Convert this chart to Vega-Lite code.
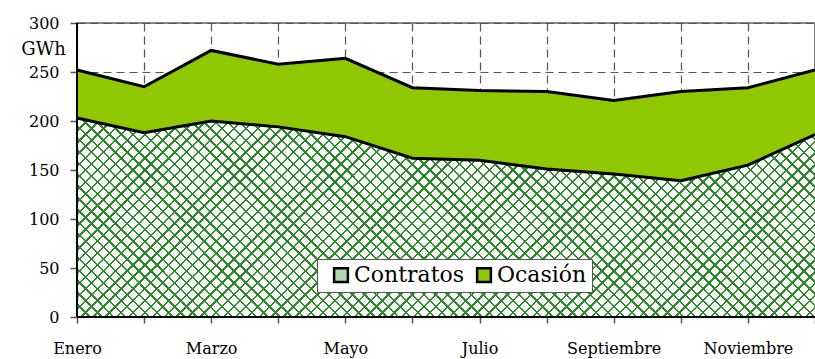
{
  "$schema": "https://vega.github.io/schema/vega-lite/v6.json",
  "autosize": "none",
  "width": 738,
  "height": 294,
  "padding": {"left": 77, "top": 23, "right": 0, "bottom": 42},
  "background": "white",
  "params": [
    {"name": "hatch", "value": [
{"offset":0,"color":"#2a8a2a"},{"offset":0.0025,"color":"#2a8a2a"},{"offset":0.0025,"color":"#0000"},{"offset":0.0125,"color":"#0000"},
{"offset":0.0125,"color":"#2a8a2a"},{"offset":0.015,"color":"#2a8a2a"},{"offset":0.015,"color":"#0000"},{"offset":0.025,"color":"#0000"},
{"offset":0.025,"color":"#2a8a2a"},{"offset":0.0275,"color":"#2a8a2a"},{"offset":0.0275,"color":"#0000"},{"offset":0.0375,"color":"#0000"},
{"offset":0.0375,"color":"#2a8a2a"},{"offset":0.04,"color":"#2a8a2a"},{"offset":0.04,"color":"#0000"},{"offset":0.05,"color":"#0000"},
{"offset":0.05,"color":"#2a8a2a"},{"offset":0.0525,"color":"#2a8a2a"},{"offset":0.0525,"color":"#0000"},{"offset":0.0625,"color":"#0000"},
{"offset":0.0625,"color":"#2a8a2a"},{"offset":0.065,"color":"#2a8a2a"},{"offset":0.065,"color":"#0000"},{"offset":0.075,"color":"#0000"},
{"offset":0.075,"color":"#2a8a2a"},{"offset":0.0775,"color":"#2a8a2a"},{"offset":0.0775,"color":"#0000"},{"offset":0.0875,"color":"#0000"},
{"offset":0.0875,"color":"#2a8a2a"},{"offset":0.09,"color":"#2a8a2a"},{"offset":0.09,"color":"#0000"},{"offset":0.1,"color":"#0000"},
{"offset":0.1,"color":"#2a8a2a"},{"offset":0.1025,"color":"#2a8a2a"},{"offset":0.1025,"color":"#0000"},{"offset":0.1125,"color":"#0000"},
{"offset":0.1125,"color":"#2a8a2a"},{"offset":0.115,"color":"#2a8a2a"},{"offset":0.115,"color":"#0000"},{"offset":0.125,"color":"#0000"},
{"offset":0.125,"color":"#2a8a2a"},{"offset":0.1275,"color":"#2a8a2a"},{"offset":0.1275,"color":"#0000"},{"offset":0.1375,"color":"#0000"},
{"offset":0.1375,"color":"#2a8a2a"},{"offset":0.14,"color":"#2a8a2a"},{"offset":0.14,"color":"#0000"},{"offset":0.15,"color":"#0000"},
{"offset":0.15,"color":"#2a8a2a"},{"offset":0.1525,"color":"#2a8a2a"},{"offset":0.1525,"color":"#0000"},{"offset":0.1625,"color":"#0000"},
{"offset":0.1625,"color":"#2a8a2a"},{"offset":0.165,"color":"#2a8a2a"},{"offset":0.165,"color":"#0000"},{"offset":0.175,"color":"#0000"},
{"offset":0.175,"color":"#2a8a2a"},{"offset":0.1775,"color":"#2a8a2a"},{"offset":0.1775,"color":"#0000"},{"offset":0.1875,"color":"#0000"},
{"offset":0.1875,"color":"#2a8a2a"},{"offset":0.19,"color":"#2a8a2a"},{"offset":0.19,"color":"#0000"},{"offset":0.2,"color":"#0000"},
{"offset":0.2,"color":"#2a8a2a"},{"offset":0.2025,"color":"#2a8a2a"},{"offset":0.2025,"color":"#0000"},{"offset":0.2125,"color":"#0000"},
{"offset":0.2125,"color":"#2a8a2a"},{"offset":0.215,"color":"#2a8a2a"},{"offset":0.215,"color":"#0000"},{"offset":0.225,"color":"#0000"},
{"offset":0.225,"color":"#2a8a2a"},{"offset":0.2275,"color":"#2a8a2a"},{"offset":0.2275,"color":"#0000"},{"offset":0.2375,"color":"#0000"},
{"offset":0.2375,"color":"#2a8a2a"},{"offset":0.24,"color":"#2a8a2a"},{"offset":0.24,"color":"#0000"},{"offset":0.25,"color":"#0000"},
{"offset":0.25,"color":"#2a8a2a"},{"offset":0.2525,"color":"#2a8a2a"},{"offset":0.2525,"color":"#0000"},{"offset":0.2625,"color":"#0000"},
{"offset":0.2625,"color":"#2a8a2a"},{"offset":0.265,"color":"#2a8a2a"},{"offset":0.265,"color":"#0000"},{"offset":0.275,"color":"#0000"},
{"offset":0.275,"color":"#2a8a2a"},{"offset":0.2775,"color":"#2a8a2a"},{"offset":0.2775,"color":"#0000"},{"offset":0.2875,"color":"#0000"},
{"offset":0.2875,"color":"#2a8a2a"},{"offset":0.29,"color":"#2a8a2a"},{"offset":0.29,"color":"#0000"},{"offset":0.3,"color":"#0000"},
{"offset":0.3,"color":"#2a8a2a"},{"offset":0.3025,"color":"#2a8a2a"},{"offset":0.3025,"color":"#0000"},{"offset":0.3125,"color":"#0000"},
{"offset":0.3125,"color":"#2a8a2a"},{"offset":0.315,"color":"#2a8a2a"},{"offset":0.315,"color":"#0000"},{"offset":0.325,"color":"#0000"},
{"offset":0.325,"color":"#2a8a2a"},{"offset":0.3275,"color":"#2a8a2a"},{"offset":0.3275,"color":"#0000"},{"offset":0.3375,"color":"#0000"},
{"offset":0.3375,"color":"#2a8a2a"},{"offset":0.34,"color":"#2a8a2a"},{"offset":0.34,"color":"#0000"},{"offset":0.35,"color":"#0000"},
{"offset":0.35,"color":"#2a8a2a"},{"offset":0.3525,"color":"#2a8a2a"},{"offset":0.3525,"color":"#0000"},{"offset":0.3625,"color":"#0000"},
{"offset":0.3625,"color":"#2a8a2a"},{"offset":0.365,"color":"#2a8a2a"},{"offset":0.365,"color":"#0000"},{"offset":0.375,"color":"#0000"},
{"offset":0.375,"color":"#2a8a2a"},{"offset":0.3775,"color":"#2a8a2a"},{"offset":0.3775,"color":"#0000"},{"offset":0.3875,"color":"#0000"},
{"offset":0.3875,"color":"#2a8a2a"},{"offset":0.39,"color":"#2a8a2a"},{"offset":0.39,"color":"#0000"},{"offset":0.4,"color":"#0000"},
{"offset":0.4,"color":"#2a8a2a"},{"offset":0.4025,"color":"#2a8a2a"},{"offset":0.4025,"color":"#0000"},{"offset":0.4125,"color":"#0000"},
{"offset":0.4125,"color":"#2a8a2a"},{"offset":0.415,"color":"#2a8a2a"},{"offset":0.415,"color":"#0000"},{"offset":0.425,"color":"#0000"},
{"offset":0.425,"color":"#2a8a2a"},{"offset":0.4275,"color":"#2a8a2a"},{"offset":0.4275,"color":"#0000"},{"offset":0.4375,"color":"#0000"},
{"offset":0.4375,"color":"#2a8a2a"},{"offset":0.44,"color":"#2a8a2a"},{"offset":0.44,"color":"#0000"},{"offset":0.45,"color":"#0000"},
{"offset":0.45,"color":"#2a8a2a"},{"offset":0.4525,"color":"#2a8a2a"},{"offset":0.4525,"color":"#0000"},{"offset":0.4625,"color":"#0000"},
{"offset":0.4625,"color":"#2a8a2a"},{"offset":0.465,"color":"#2a8a2a"},{"offset":0.465,"color":"#0000"},{"offset":0.475,"color":"#0000"},
{"offset":0.475,"color":"#2a8a2a"},{"offset":0.4775,"color":"#2a8a2a"},{"offset":0.4775,"color":"#0000"},{"offset":0.4875,"color":"#0000"},
{"offset":0.4875,"color":"#2a8a2a"},{"offset":0.49,"color":"#2a8a2a"},{"offset":0.49,"color":"#0000"},{"offset":0.5,"color":"#0000"},
{"offset":0.5,"color":"#2a8a2a"},{"offset":0.5025,"color":"#2a8a2a"},{"offset":0.5025,"color":"#0000"},{"offset":0.5125,"color":"#0000"},
{"offset":0.5125,"color":"#2a8a2a"},{"offset":0.515,"color":"#2a8a2a"},{"offset":0.515,"color":"#0000"},{"offset":0.525,"color":"#0000"},
{"offset":0.525,"color":"#2a8a2a"},{"offset":0.5275,"color":"#2a8a2a"},{"offset":0.5275,"color":"#0000"},{"offset":0.5375,"color":"#0000"},
{"offset":0.5375,"color":"#2a8a2a"},{"offset":0.54,"color":"#2a8a2a"},{"offset":0.54,"color":"#0000"},{"offset":0.55,"color":"#0000"},
{"offset":0.55,"color":"#2a8a2a"},{"offset":0.5525,"color":"#2a8a2a"},{"offset":0.5525,"color":"#0000"},{"offset":0.5625,"color":"#0000"},
{"offset":0.5625,"color":"#2a8a2a"},{"offset":0.565,"color":"#2a8a2a"},{"offset":0.565,"color":"#0000"},{"offset":0.575,"color":"#0000"},
{"offset":0.575,"color":"#2a8a2a"},{"offset":0.5775,"color":"#2a8a2a"},{"offset":0.5775,"color":"#0000"},{"offset":0.5875,"color":"#0000"},
{"offset":0.5875,"color":"#2a8a2a"},{"offset":0.59,"color":"#2a8a2a"},{"offset":0.59,"color":"#0000"},{"offset":0.6,"color":"#0000"},
{"offset":0.6,"color":"#2a8a2a"},{"offset":0.6025,"color":"#2a8a2a"},{"offset":0.6025,"color":"#0000"},{"offset":0.6125,"color":"#0000"},
{"offset":0.6125,"color":"#2a8a2a"},{"offset":0.615,"color":"#2a8a2a"},{"offset":0.615,"color":"#0000"},{"offset":0.625,"color":"#0000"},
{"offset":0.625,"color":"#2a8a2a"},{"offset":0.6275,"color":"#2a8a2a"},{"offset":0.6275,"color":"#0000"},{"offset":0.6375,"color":"#0000"},
{"offset":0.6375,"color":"#2a8a2a"},{"offset":0.64,"color":"#2a8a2a"},{"offset":0.64,"color":"#0000"},{"offset":0.65,"color":"#0000"},
{"offset":0.65,"color":"#2a8a2a"},{"offset":0.6525,"color":"#2a8a2a"},{"offset":0.6525,"color":"#0000"},{"offset":0.6625,"color":"#0000"},
{"offset":0.6625,"color":"#2a8a2a"},{"offset":0.665,"color":"#2a8a2a"},{"offset":0.665,"color":"#0000"},{"offset":0.675,"color":"#0000"},
{"offset":0.675,"color":"#2a8a2a"},{"offset":0.6775,"color":"#2a8a2a"},{"offset":0.6775,"color":"#0000"},{"offset":0.6875,"color":"#0000"},
{"offset":0.6875,"color":"#2a8a2a"},{"offset":0.69,"color":"#2a8a2a"},{"offset":0.69,"color":"#0000"},{"offset":0.7,"color":"#0000"},
{"offset":0.7,"color":"#2a8a2a"},{"offset":0.7025,"color":"#2a8a2a"},{"offset":0.7025,"color":"#0000"},{"offset":0.7125,"color":"#0000"},
{"offset":0.7125,"color":"#2a8a2a"},{"offset":0.715,"color":"#2a8a2a"},{"offset":0.715,"color":"#0000"},{"offset":0.725,"color":"#0000"},
{"offset":0.725,"color":"#2a8a2a"},{"offset":0.7275,"color":"#2a8a2a"},{"offset":0.7275,"color":"#0000"},{"offset":0.7375,"color":"#0000"},
{"offset":0.7375,"color":"#2a8a2a"},{"offset":0.74,"color":"#2a8a2a"},{"offset":0.74,"color":"#0000"},{"offset":0.75,"color":"#0000"},
{"offset":0.75,"color":"#2a8a2a"},{"offset":0.7525,"color":"#2a8a2a"},{"offset":0.7525,"color":"#0000"},{"offset":0.7625,"color":"#0000"},
{"offset":0.7625,"color":"#2a8a2a"},{"offset":0.765,"color":"#2a8a2a"},{"offset":0.765,"color":"#0000"},{"offset":0.775,"color":"#0000"},
{"offset":0.775,"color":"#2a8a2a"},{"offset":0.7775,"color":"#2a8a2a"},{"offset":0.7775,"color":"#0000"},{"offset":0.7875,"color":"#0000"},
{"offset":0.7875,"color":"#2a8a2a"},{"offset":0.79,"color":"#2a8a2a"},{"offset":0.79,"color":"#0000"},{"offset":0.8,"color":"#0000"},
{"offset":0.8,"color":"#2a8a2a"},{"offset":0.8025,"color":"#2a8a2a"},{"offset":0.8025,"color":"#0000"},{"offset":0.8125,"color":"#0000"},
{"offset":0.8125,"color":"#2a8a2a"},{"offset":0.815,"color":"#2a8a2a"},{"offset":0.815,"color":"#0000"},{"offset":0.825,"color":"#0000"},
{"offset":0.825,"color":"#2a8a2a"},{"offset":0.8275,"color":"#2a8a2a"},{"offset":0.8275,"color":"#0000"},{"offset":0.8375,"color":"#0000"},
{"offset":0.8375,"color":"#2a8a2a"},{"offset":0.84,"color":"#2a8a2a"},{"offset":0.84,"color":"#0000"},{"offset":0.85,"color":"#0000"},
{"offset":0.85,"color":"#2a8a2a"},{"offset":0.8525,"color":"#2a8a2a"},{"offset":0.8525,"color":"#0000"},{"offset":0.8625,"color":"#0000"},
{"offset":0.8625,"color":"#2a8a2a"},{"offset":0.865,"color":"#2a8a2a"},{"offset":0.865,"color":"#0000"},{"offset":0.875,"color":"#0000"},
{"offset":0.875,"color":"#2a8a2a"},{"offset":0.8775,"color":"#2a8a2a"},{"offset":0.8775,"color":"#0000"},{"offset":0.8875,"color":"#0000"},
{"offset":0.8875,"color":"#2a8a2a"},{"offset":0.89,"color":"#2a8a2a"},{"offset":0.89,"color":"#0000"},{"offset":0.9,"color":"#0000"},
{"offset":0.9,"color":"#2a8a2a"},{"offset":0.9025,"color":"#2a8a2a"},{"offset":0.9025,"color":"#0000"},{"offset":0.9125,"color":"#0000"},
{"offset":0.9125,"color":"#2a8a2a"},{"offset":0.915,"color":"#2a8a2a"},{"offset":0.915,"color":"#0000"},{"offset":0.925,"color":"#0000"},
{"offset":0.925,"color":"#2a8a2a"},{"offset":0.9275,"color":"#2a8a2a"},{"offset":0.9275,"color":"#0000"},{"offset":0.9375,"color":"#0000"},
{"offset":0.9375,"color":"#2a8a2a"},{"offset":0.94,"color":"#2a8a2a"},{"offset":0.94,"color":"#0000"},{"offset":0.95,"color":"#0000"},
{"offset":0.95,"color":"#2a8a2a"},{"offset":0.9525,"color":"#2a8a2a"},{"offset":0.9525,"color":"#0000"},{"offset":0.9625,"color":"#0000"},
{"offset":0.9625,"color":"#2a8a2a"},{"offset":0.965,"color":"#2a8a2a"},{"offset":0.965,"color":"#0000"},{"offset":0.975,"color":"#0000"},
{"offset":0.975,"color":"#2a8a2a"},{"offset":0.9775,"color":"#2a8a2a"},{"offset":0.9775,"color":"#0000"},{"offset":0.9875,"color":"#0000"},
{"offset":0.9875,"color":"#2a8a2a"},{"offset":0.99,"color":"#2a8a2a"},{"offset":0.99,"color":"#0000"},{"offset":1,"color":"#0000"}
    ]}
  ],
  "config": {
    "font": "DejaVu Serif",
    "view": {"stroke": "#888888", "strokeWidth": 2},
    "axis": {
      "zindex": 0,
      "labelFont": "DejaVu Serif",
      "labelFontSize": 16,
      "labelColor": "black",
      "titleFont": "DejaVu Serif",
      "domain": false,
      "tickColor": "#555555",
      "tickWidth": 1.5,
      "gridColor": "#555555",
      "gridDash": [8, 5],
      "gridWidth": 1.2
    }
  },
  "data": {
    "values": [
      {"month": "Enero", "series": "Contratos", "value": 203},
      {"month": "Febrero", "series": "Contratos", "value": 188},
      {"month": "Marzo", "series": "Contratos", "value": 200},
      {"month": "Abril", "series": "Contratos", "value": 194},
      {"month": "Mayo", "series": "Contratos", "value": 184},
      {"month": "Junio", "series": "Contratos", "value": 162},
      {"month": "Julio", "series": "Contratos", "value": 160},
      {"month": "Agosto", "series": "Contratos", "value": 151},
      {"month": "Septiembre", "series": "Contratos", "value": 146},
      {"month": "Octubre", "series": "Contratos", "value": 139},
      {"month": "Noviembre", "series": "Contratos", "value": 155},
      {"month": "Diciembre", "series": "Contratos", "value": 186},
      {"month": "Enero", "series": "Ocasión", "value": 49},
      {"month": "Febrero", "series": "Ocasión", "value": 47},
      {"month": "Marzo", "series": "Ocasión", "value": 72},
      {"month": "Abril", "series": "Ocasión", "value": 64},
      {"month": "Mayo", "series": "Ocasión", "value": 80},
      {"month": "Junio", "series": "Ocasión", "value": 72},
      {"month": "Julio", "series": "Ocasión", "value": 71},
      {"month": "Agosto", "series": "Ocasión", "value": 79},
      {"month": "Septiembre", "series": "Ocasión", "value": 75},
      {"month": "Octubre", "series": "Ocasión", "value": 91},
      {"month": "Noviembre", "series": "Ocasión", "value": 79},
      {"month": "Diciembre", "series": "Ocasión", "value": 66}
    ]
  },
  "encoding": {
    "x": {
      "field": "month",
      "type": "ordinal",
      "sort": ["Enero", "Febrero", "Marzo", "Abril", "Mayo", "Junio", "Julio", "Agosto", "Septiembre", "Octubre", "Noviembre", "Diciembre"],
      "scale": {"type": "point", "padding": 0},
      "axis": {
        "title": null,
        "labelAngle": 0,
        "grid": true,
        "tickSize": 6,
        "labelPadding": 17,
        "labelExpr": "indexof(['Enero','Marzo','Mayo','Julio','Septiembre','Noviembre'], datum.label) >= 0 ? datum.label : ''"
      }
    },
    "y": {
      "field": "value",
      "type": "quantitative",
      "stack": "zero",
      "scale": {"domain": [0, 300], "nice": false},
      "axis": {
        "values": [0, 50, 100, 150, 200, 250, 300],
        "grid": true,
        "tickSize": 7,
        "labelPadding": 11,
        "title": "GWh",
        "titleAngle": 0,
        "titleFontSize": 18,
        "titleFontWeight": "normal",
        "titleColor": "black",
        "titleAlign": "center",
        "titleBaseline": "middle",
        "titleX": -34,
        "titleY": 26
      }
    },
    "order": {"field": "series", "sort": "ascending"}
  },
  "layer": [
    {
      "mark": {"type": "area", "opacity": 1},
      "encoding": {
        "color": {
          "field": "series",
          "type": "nominal",
          "scale": {"domain": ["Contratos", "Ocasión"], "range": ["#b0d6ae", "#8fc700"]},
          "legend": {
            "title": null,
            "orient": "none",
            "direction": "horizontal",
            "legendX": 240,
            "legendY": 236,
            "symbolType": "square",
            "symbolSize": 190,
            "symbolStrokeColor": "black",
            "symbolStrokeWidth": 2.5,
            "symbolOpacity": 1,
            "symbolOffset": 8,
            "labelFont": "DejaVu Serif",
            "labelFontSize": 22,
            "labelColor": "black",
            "labelLimit": 200,
            "labelOffset": 2,
            "columnPadding": 0,
            "padding": 5,
            "fillColor": "white",
            "strokeColor": "#555555"
          }
        }
      }
    },
    {
      "transform": [{"filter": "datum.series === 'Contratos'"}],
      "mark": {"type": "area", "color": "white", "opacity": 1}
    },
    {
      "transform": [{"filter": "datum.series === 'Contratos'"}],
      "mark": {"type": "area", "opacity": 1, "fill": {"expr": "{'gradient': 'linear', 'x1': 0, 'y1': 0, 'x2': 1.2, 'y2': 0.3234, 'stops': hatch}"}}
    },
    {
      "transform": [{"filter": "datum.series === 'Contratos'"}],
      "mark": {"type": "area", "opacity": 1, "fill": {"expr": "{'gradient': 'linear', 'x1': 0, 'y1': 1, 'x2': 1.2, 'y2': 0.6766, 'stops': hatch}"}}
    },
    {
      "transform": [{"filter": "datum.series === 'Contratos'"}],
      "mark": {"type": "area", "opacity": 1, "fill": {"expr": "{'gradient': 'linear', 'x1': 0, 'y1': 0, 'x2': 1.2, 'y2': 0.3234, 'stops': hatch}"}}
    },
    {
      "transform": [{"filter": "datum.series === 'Contratos'"}],
      "mark": {"type": "area", "opacity": 1, "fill": {"expr": "{'gradient': 'linear', 'x1': 0, 'y1': 1, 'x2': 1.2, 'y2': 0.6766, 'stops': hatch}"}}
    },
    {
      "mark": {"type": "line", "color": "black", "strokeWidth": 3},
      "encoding": {
        "detail": {"field": "series", "type": "nominal"}
      }
    },
    {
      "mark": {"type": "rule", "color": "black", "strokeWidth": 2},
      "encoding": {"x": {"datum": "Enero"}, "y": null, "order": null}
    },
    {
      "mark": {"type": "rule", "color": "black", "strokeWidth": 2},
      "encoding": {"y": {"datum": 0}, "x": null, "order": null}
    }
  ]
}
